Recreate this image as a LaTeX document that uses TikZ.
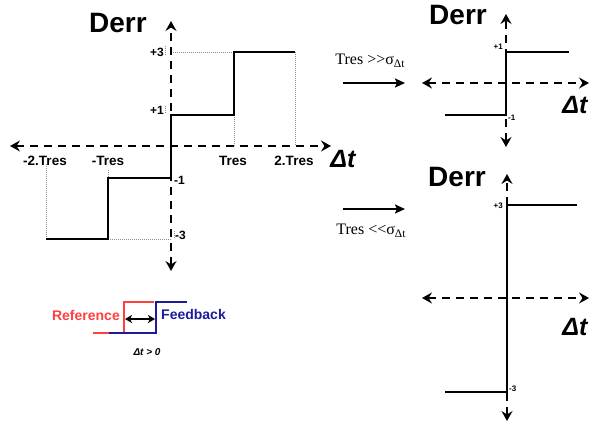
\documentclass[tikz,border=0pt]{standalone}
\usepackage{fontspec}
\setmainfont{Liberation Sans}
\newfontfamily\serifface{Liberation Serif}
\usetikzlibrary{arrows.meta}

\definecolor{refred}{HTML}{FF4040}
\definecolor{fbblue}{HTML}{1C1C9A}

\begin{document}
\begin{tikzpicture}[x=1pt,y=-1pt,
  axis/.style={line width=2pt, dash pattern=on 8pt off 6pt,
    {Stealth[length=10pt,width=11pt,inset=3.5pt]}-{Stealth[length=10pt,width=11pt,inset=3.5pt]}},
  stair/.style={line width=2.6pt, line join=miter},
  guide/.style={black!45, line width=0.6pt, dash pattern=on 1pt off 1pt},
  title/.style={font=\fontsize{28}{28}\selectfont\bfseries, inner sep=0pt},
  dtlabel/.style={font=\fontsize{25}{25}\selectfont\bfseries\itshape, inner sep=0pt},
  tick/.style={font=\fontsize{13.5}{13.5}\selectfont\bfseries, inner sep=0pt},
  level/.style={font=\fontsize{12}{12}\selectfont\bfseries, inner sep=0pt},
  smalllevel/.style={font=\fontsize{8}{8}\selectfont\bfseries, inner sep=0pt},
  cond/.style={font=\serifface\fontsize{16}{16}\selectfont, inner sep=0pt, anchor=base},
  flow/.style={line width=2pt, -{Stealth[length=10pt,width=9pt,inset=2pt]}},
  legendline/.style={line width=1.8pt},
  gap/.style={line width=2pt,
    {Stealth[length=7pt,width=8pt,inset=2pt]}-{Stealth[length=7pt,width=8pt,inset=2pt]}}
]
\useasboundingbox (0,0) rectangle (593,423);

% ---------- main staircase characteristic ----------
\coordinate (L-top) at (171,21);
\coordinate (L-bot) at (171,271);
\coordinate (L-left) at (10,146);
\coordinate (L-right) at (331,146);

% guide lines
\draw[guide] (171,52) -- (234,52);
\draw[guide] (295,52) -- (295,146);
\draw[guide] (234,115) -- (234,146);
\draw[guide] (108,170) -- (108,178);
\draw[guide] (46,164) -- (46,239);
\draw[guide] (108,239) -- (171,239);
\draw[guide] (165,46) -- (165,56);
\draw[guide] (165,106) -- (165,113);
\draw[guide] (174,231) -- (174,239);

\draw[axis] (L-left) -- (L-right);
\draw[axis] (L-bot) -- (L-top);

\coordinate (s0) at (46,239);
\coordinate (s1) at (108,178);
\coordinate (s2) at (171,115);
\coordinate (s3) at (234,52);
\coordinate (s4) at (295,52);
\draw[stair] (s0) -| (s1) -| (s2) -| (s3) -- (s4);

\node[title] (L-derr) at (118,23) {Derr};
\node[dtlabel] (L-dt) at (343,159) {Δt};
\node[level, anchor=east] (L-p3) at (164,52) {+3};
\node[level, anchor=east] (L-p1) at (164,110) {+1};
\node[level, anchor=west] (L-m1) at (174,180) {-1};
\node[level, anchor=west] (L-m3) at (175,235) {-3};
\node[tick] (L-t1) at (45,161) {-2.Tres};
\node[tick] (L-t2) at (108,161) {-Tres};
\node[tick] (L-t3) at (233,161) {Tres};
\node[tick] (L-t4) at (294,161) {2.Tres};

% ---------- legend ----------
\coordinate (r0) at (93,333);
\coordinate (r1) at (124,333);
\coordinate (r2) at (154,302);
\coordinate (b0) at (109,333);
\coordinate (b1) at (156,302);
\coordinate (b2) at (187,302);
\draw[legendline, refred] (r0) -- (r1) |- (r2);
\draw[legendline, fbblue] (b0) -| (b1) -- (b2);
\coordinate (g0) at (125,319);
\coordinate (g1) at (155,319);
\draw[gap] (g0) -- (g1);
\node[font=\fontsize{14}{14}\selectfont\bfseries, text=refred, inner sep=0pt, anchor=east] (ref) at (120,315) {Reference};
\node[font=\fontsize{14}{14}\selectfont\bfseries, text=fbblue, inner sep=0pt, anchor=west] (fb) at (161,314) {Feedback};
\node[font=\fontsize{10}{10}\selectfont\bfseries\itshape, inner sep=0pt] (cond0) at (147,352) {Δt > 0};

% ---------- coarse resolution case ----------
\coordinate (A-from) at (343,83);
\coordinate (A-to) at (405,83);
\draw[flow] (A-from) -- (A-to);
\node[cond] (A-txt) at (370,64) {Tres >>σ\raisebox{-0.45ex}{\fontsize{11.5}{11.5}\selectfont Δt}};

\coordinate (T-top) at (506,14);
\coordinate (T-bot) at (506,147);
\coordinate (T-left) at (422,83);
\coordinate (T-right) at (589,83);
\draw[axis] (T-left) -- (T-right);
\draw[axis] (T-bot) -- (T-top);
\coordinate (t0) at (445,115);
\coordinate (t1) at (506,52);
\coordinate (t2) at (569,52);
\draw[stair] (t0) -| (t1) -- (t2);
\node[title] (T-derr) at (458,15) {Derr};
\node[dtlabel] (T-dt) at (575,105) {Δt};
\node[smalllevel, anchor=east] (T-p1) at (503,47) {+1};
\node[smalllevel, anchor=west] (T-m1) at (508,118) {-1};

% ---------- fine resolution case ----------
\coordinate (B-from) at (343,209);
\coordinate (B-to) at (405,209);
\draw[flow] (B-from) -- (B-to);
\node[cond] (B-txt) at (371,234) {Tres <<σ\raisebox{-0.45ex}{\fontsize{11.5}{11.5}\selectfont Δt}};

\coordinate (U-top) at (507,174);
\coordinate (U-bot) at (507,421);
\coordinate (U-left) at (422,298);
\coordinate (U-right) at (589,298);
\draw[axis] (U-left) -- (U-right);
\draw[axis] (U-bot) -- (U-top);
\coordinate (u0) at (445,392);
\coordinate (u1) at (507,205);
\coordinate (u2) at (577,205);
\draw[stair] (u0) -| (u1) -- (u2);
\node[title] (U-derr) at (457,177) {Derr};
\node[dtlabel] (U-dt) at (575,327) {Δt};
\node[smalllevel, anchor=east] (U-p3) at (503,206) {+3};
\node[smalllevel, anchor=west] (U-m3) at (509,389) {-3};
\end{tikzpicture}
\end{document}
